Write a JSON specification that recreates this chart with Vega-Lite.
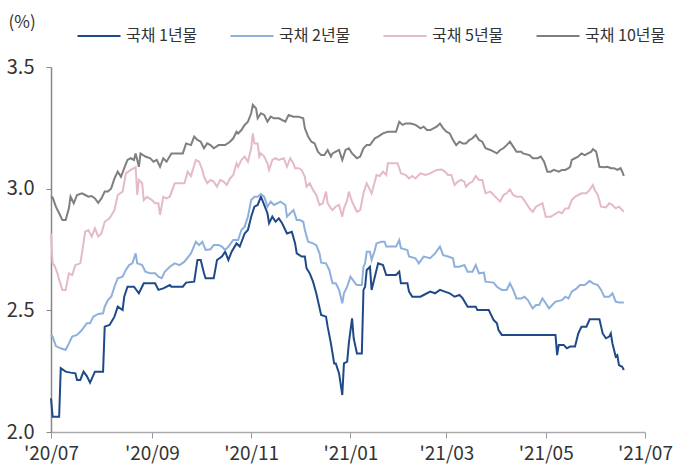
{
  "$schema": "https://vega.github.io/schema/vega-lite/v6.json",
  "width": 594,
  "height": 365,
  "autosize": "none",
  "padding": {"left": 51, "top": 67, "right": 28, "bottom": 36},
  "background": "white",
  "config": {
    "view": {"stroke": null},
    "font": "Noto Sans CJK KR"
  },
  "data": {
    "values": [
      {"s":"국채 1년물","t":"2020-07-01","v":2.138},
      {"s":"국채 1년물","t":"2020-07-02","v":2.063},
      {"s":"국채 1년물","t":"2020-07-06","v":2.063},
      {"s":"국채 1년물","t":"2020-07-07","v":2.262},
      {"s":"국채 1년물","t":"2020-07-10","v":2.248},
      {"s":"국채 1년물","t":"2020-07-13","v":2.244},
      {"s":"국채 1년물","t":"2020-07-16","v":2.241},
      {"s":"국채 1년물","t":"2020-07-17","v":2.214},
      {"s":"국채 1년물","t":"2020-07-19","v":2.214},
      {"s":"국채 1년물","t":"2020-07-21","v":2.248},
      {"s":"국채 1년물","t":"2020-07-23","v":2.230},
      {"s":"국채 1년물","t":"2020-07-25","v":2.203},
      {"s":"국채 1년물","t":"2020-07-28","v":2.248},
      {"s":"국채 1년물","t":"2020-08-02","v":2.248},
      {"s":"국채 1년물","t":"2020-08-03","v":2.433},
      {"s":"국채 1년물","t":"2020-08-06","v":2.440},
      {"s":"국채 1년물","t":"2020-08-09","v":2.474},
      {"s":"국채 1년물","t":"2020-08-11","v":2.515},
      {"s":"국채 1년물","t":"2020-08-14","v":2.501},
      {"s":"국채 1년물","t":"2020-08-15","v":2.556},
      {"s":"국채 1년물","t":"2020-08-17","v":2.597},
      {"s":"국채 1년물","t":"2020-08-21","v":2.597},
      {"s":"국채 1년물","t":"2020-08-24","v":2.570},
      {"s":"국채 1년물","t":"2020-08-27","v":2.611},
      {"s":"국채 1년물","t":"2020-09-03","v":2.611},
      {"s":"국채 1년물","t":"2020-09-05","v":2.584},
      {"s":"국채 1년물","t":"2020-09-08","v":2.590},
      {"s":"국채 1년물","t":"2020-09-12","v":2.604},
      {"s":"국채 1년물","t":"2020-09-13","v":2.597},
      {"s":"국채 1년물","t":"2020-09-20","v":2.597},
      {"s":"국채 1년물","t":"2020-09-22","v":2.614},
      {"s":"국채 1년물","t":"2020-09-27","v":2.618},
      {"s":"국채 1년물","t":"2020-09-29","v":2.707},
      {"s":"국채 1년물","t":"2020-10-01","v":2.707},
      {"s":"국채 1년물","t":"2020-10-03","v":2.652},
      {"s":"국채 1년물","t":"2020-10-04","v":2.632},
      {"s":"국채 1년물","t":"2020-10-09","v":2.632},
      {"s":"국채 1년물","t":"2020-10-11","v":2.707},
      {"s":"국채 1년물","t":"2020-10-14","v":2.721},
      {"s":"국채 1년물","t":"2020-10-16","v":2.741},
      {"s":"국채 1년물","t":"2020-10-18","v":2.707},
      {"s":"국채 1년물","t":"2020-10-20","v":2.741},
      {"s":"국채 1년물","t":"2020-10-23","v":2.775},
      {"s":"국채 1년물","t":"2020-10-25","v":2.762},
      {"s":"국채 1년물","t":"2020-10-28","v":2.816},
      {"s":"국채 1년물","t":"2020-10-30","v":2.830},
      {"s":"국채 1년물","t":"2020-11-01","v":2.885},
      {"s":"국채 1년물","t":"2020-11-03","v":2.926},
      {"s":"국채 1년물","t":"2020-11-05","v":2.933},
      {"s":"국채 1년물","t":"2020-11-07","v":2.967},
      {"s":"국채 1년물","t":"2020-11-09","v":2.933},
      {"s":"국채 1년물","t":"2020-11-11","v":2.899},
      {"s":"국채 1년물","t":"2020-11-12","v":2.858},
      {"s":"국채 1년물","t":"2020-11-14","v":2.885},
      {"s":"국채 1년물","t":"2020-11-16","v":2.864},
      {"s":"국채 1년물","t":"2020-11-18","v":2.878},
      {"s":"국채 1년물","t":"2020-11-20","v":2.858},
      {"s":"국채 1년물","t":"2020-11-23","v":2.816},
      {"s":"국채 1년물","t":"2020-11-26","v":2.823},
      {"s":"국채 1년물","t":"2020-11-28","v":2.775},
      {"s":"국채 1년물","t":"2020-11-29","v":2.734},
      {"s":"국채 1년물","t":"2020-12-02","v":2.721},
      {"s":"국채 1년물","t":"2020-12-04","v":2.721},
      {"s":"국채 1년물","t":"2020-12-05","v":2.673},
      {"s":"국채 1년물","t":"2020-12-07","v":2.652},
      {"s":"국채 1년물","t":"2020-12-09","v":2.618},
      {"s":"국채 1년물","t":"2020-12-11","v":2.570},
      {"s":"국채 1년물","t":"2020-12-14","v":2.481},
      {"s":"국채 1년물","t":"2020-12-17","v":2.474},
      {"s":"국채 1년물","t":"2020-12-18","v":2.433},
      {"s":"국채 1년물","t":"2020-12-20","v":2.364},
      {"s":"국채 1년물","t":"2020-12-22","v":2.282},
      {"s":"국채 1년물","t":"2020-12-23","v":2.282},
      {"s":"국채 1년물","t":"2020-12-25","v":2.241},
      {"s":"국채 1년물","t":"2020-12-27","v":2.152},
      {"s":"국채 1년물","t":"2020-12-28","v":2.282},
      {"s":"국채 1년물","t":"2020-12-30","v":2.289},
      {"s":"국채 1년물","t":"2020-12-31","v":2.364},
      {"s":"국채 1년물","t":"2021-01-02","v":2.467},
      {"s":"국채 1년물","t":"2021-01-03","v":2.385},
      {"s":"국채 1년물","t":"2021-01-05","v":2.323},
      {"s":"국채 1년물","t":"2021-01-08","v":2.323},
      {"s":"국채 1년물","t":"2021-01-09","v":2.584},
      {"s":"국채 1년물","t":"2021-01-10","v":2.597},
      {"s":"국채 1년물","t":"2021-01-11","v":2.666},
      {"s":"국채 1년물","t":"2021-01-13","v":2.679},
      {"s":"국채 1년물","t":"2021-01-14","v":2.584},
      {"s":"국채 1년물","t":"2021-01-16","v":2.638},
      {"s":"국채 1년물","t":"2021-01-18","v":2.693},
      {"s":"국채 1년물","t":"2021-01-21","v":2.686},
      {"s":"국채 1년물","t":"2021-01-23","v":2.645},
      {"s":"국채 1년물","t":"2021-01-29","v":2.645},
      {"s":"국채 1년물","t":"2021-01-31","v":2.659},
      {"s":"국채 1년물","t":"2021-02-01","v":2.611},
      {"s":"국채 1년물","t":"2021-02-05","v":2.611},
      {"s":"국채 1년물","t":"2021-02-06","v":2.577},
      {"s":"국채 1년물","t":"2021-02-08","v":2.556},
      {"s":"국채 1년물","t":"2021-02-13","v":2.556},
      {"s":"국채 1년물","t":"2021-02-15","v":2.563},
      {"s":"국채 1년물","t":"2021-02-19","v":2.577},
      {"s":"국채 1년물","t":"2021-02-22","v":2.570},
      {"s":"국채 1년물","t":"2021-02-25","v":2.584},
      {"s":"국채 1년물","t":"2021-02-28","v":2.577},
      {"s":"국채 1년물","t":"2021-03-03","v":2.570},
      {"s":"국채 1년물","t":"2021-03-06","v":2.556},
      {"s":"국채 1년물","t":"2021-03-09","v":2.563},
      {"s":"국채 1년물","t":"2021-03-11","v":2.549},
      {"s":"국채 1년물","t":"2021-03-14","v":2.515},
      {"s":"국채 1년물","t":"2021-03-19","v":2.515},
      {"s":"국채 1년물","t":"2021-03-20","v":2.501},
      {"s":"국채 1년물","t":"2021-03-27","v":2.501},
      {"s":"국채 1년물","t":"2021-03-30","v":2.460},
      {"s":"국채 1년물","t":"2021-04-01","v":2.447},
      {"s":"국채 1년물","t":"2021-04-02","v":2.419},
      {"s":"국채 1년물","t":"2021-04-04","v":2.399},
      {"s":"국채 1년물","t":"2021-05-07","v":2.399},
      {"s":"국채 1년물","t":"2021-05-08","v":2.316},
      {"s":"국채 1년물","t":"2021-05-09","v":2.358},
      {"s":"국채 1년물","t":"2021-05-12","v":2.358},
      {"s":"국채 1년물","t":"2021-05-14","v":2.344},
      {"s":"국채 1년물","t":"2021-05-16","v":2.351},
      {"s":"국채 1년물","t":"2021-05-19","v":2.351},
      {"s":"국채 1년물","t":"2021-05-21","v":2.405},
      {"s":"국채 1년물","t":"2021-05-23","v":2.433},
      {"s":"국채 1년물","t":"2021-05-26","v":2.433},
      {"s":"국채 1년물","t":"2021-05-28","v":2.463},
      {"s":"국채 1년물","t":"2021-06-03","v":2.463},
      {"s":"국채 1년물","t":"2021-06-05","v":2.405},
      {"s":"국채 1년물","t":"2021-06-07","v":2.385},
      {"s":"국채 1년물","t":"2021-06-09","v":2.392},
      {"s":"국채 1년물","t":"2021-06-10","v":2.405},
      {"s":"국채 1년물","t":"2021-06-11","v":2.364},
      {"s":"국채 1년물","t":"2021-06-13","v":2.310},
      {"s":"국채 1년물","t":"2021-06-14","v":2.316},
      {"s":"국채 1년물","t":"2021-06-15","v":2.275},
      {"s":"국채 1년물","t":"2021-06-17","v":2.268},
      {"s":"국채 1년물","t":"2021-06-18","v":2.255},

      {"s":"국채 2년물","t":"2020-07-01","v":2.399},
      {"s":"국채 2년물","t":"2020-07-02","v":2.392},
      {"s":"국채 2년물","t":"2020-07-04","v":2.353},
      {"s":"국채 2년물","t":"2020-07-07","v":2.344},
      {"s":"국채 2년물","t":"2020-07-10","v":2.337},
      {"s":"국채 2년물","t":"2020-07-12","v":2.364},
      {"s":"국채 2년물","t":"2020-07-14","v":2.392},
      {"s":"국채 2년물","t":"2020-07-17","v":2.399},
      {"s":"국채 2년물","t":"2020-07-20","v":2.419},
      {"s":"국채 2년물","t":"2020-07-23","v":2.447},
      {"s":"국채 2년물","t":"2020-07-25","v":2.447},
      {"s":"국채 2년물","t":"2020-07-27","v":2.474},
      {"s":"국채 2년물","t":"2020-07-30","v":2.485},
      {"s":"국채 2년물","t":"2020-08-02","v":2.488},
      {"s":"국채 2년물","t":"2020-08-03","v":2.515},
      {"s":"국채 2년물","t":"2020-08-05","v":2.542},
      {"s":"국채 2년물","t":"2020-08-07","v":2.556},
      {"s":"국채 2년물","t":"2020-08-09","v":2.597},
      {"s":"국채 2년물","t":"2020-08-11","v":2.632},
      {"s":"국채 2년물","t":"2020-08-14","v":2.638},
      {"s":"국채 2년물","t":"2020-08-16","v":2.666},
      {"s":"국채 2년물","t":"2020-08-18","v":2.686},
      {"s":"국채 2년물","t":"2020-08-20","v":2.693},
      {"s":"국채 2년물","t":"2020-08-22","v":2.734},
      {"s":"국채 2년물","t":"2020-08-23","v":2.693},
      {"s":"국채 2년물","t":"2020-08-26","v":2.686},
      {"s":"국채 2년물","t":"2020-08-28","v":2.659},
      {"s":"국채 2년물","t":"2020-08-31","v":2.652},
      {"s":"국채 2년물","t":"2020-09-03","v":2.652},
      {"s":"국채 2년물","t":"2020-09-05","v":2.638},
      {"s":"국채 2년물","t":"2020-09-07","v":2.632},
      {"s":"국채 2년물","t":"2020-09-09","v":2.659},
      {"s":"국채 2년물","t":"2020-09-12","v":2.679},
      {"s":"국채 2년물","t":"2020-09-15","v":2.693},
      {"s":"국채 2년물","t":"2020-09-18","v":2.686},
      {"s":"국채 2년물","t":"2020-09-21","v":2.700},
      {"s":"국채 2년물","t":"2020-09-25","v":2.734},
      {"s":"국채 2년물","t":"2020-09-28","v":2.782},
      {"s":"국채 2년물","t":"2020-09-30","v":2.768},
      {"s":"국채 2년물","t":"2020-10-02","v":2.782},
      {"s":"국채 2년물","t":"2020-10-04","v":2.748},
      {"s":"국채 2년물","t":"2020-10-07","v":2.751},
      {"s":"국채 2년물","t":"2020-10-09","v":2.768},
      {"s":"국채 2년물","t":"2020-10-12","v":2.768},
      {"s":"국채 2년물","t":"2020-10-14","v":2.762},
      {"s":"국채 2년물","t":"2020-10-16","v":2.748},
      {"s":"국채 2년물","t":"2020-10-18","v":2.762},
      {"s":"국채 2년물","t":"2020-10-21","v":2.789},
      {"s":"국채 2년물","t":"2020-10-24","v":2.789},
      {"s":"국채 2년물","t":"2020-10-26","v":2.830},
      {"s":"국채 2년물","t":"2020-10-28","v":2.844},
      {"s":"국채 2년물","t":"2020-10-30","v":2.885},
      {"s":"국채 2년물","t":"2020-11-01","v":2.953},
      {"s":"국채 2년물","t":"2020-11-03","v":2.967},
      {"s":"국채 2년물","t":"2020-11-05","v":2.967},
      {"s":"국채 2년물","t":"2020-11-07","v":2.978},
      {"s":"국채 2년물","t":"2020-11-09","v":2.967},
      {"s":"국채 2년물","t":"2020-11-11","v":2.926},
      {"s":"국채 2년물","t":"2020-11-13","v":2.947},
      {"s":"국채 2년물","t":"2020-11-15","v":2.933},
      {"s":"국채 2년물","t":"2020-11-17","v":2.940},
      {"s":"국채 2년물","t":"2020-11-19","v":2.947},
      {"s":"국채 2년물","t":"2020-11-22","v":2.933},
      {"s":"국채 2년물","t":"2020-11-23","v":2.885},
      {"s":"국채 2년물","t":"2020-11-25","v":2.899},
      {"s":"국채 2년물","t":"2020-11-27","v":2.912},
      {"s":"국채 2년물","t":"2020-11-29","v":2.871},
      {"s":"국채 2년물","t":"2020-12-01","v":2.871},
      {"s":"국채 2년물","t":"2020-12-03","v":2.864},
      {"s":"국채 2년물","t":"2020-12-04","v":2.830},
      {"s":"국채 2년물","t":"2020-12-06","v":2.782},
      {"s":"국채 2년물","t":"2020-12-09","v":2.775},
      {"s":"국채 2년물","t":"2020-12-11","v":2.768},
      {"s":"국채 2년물","t":"2020-12-13","v":2.734},
      {"s":"국채 2년물","t":"2020-12-14","v":2.696},
      {"s":"국채 2년물","t":"2020-12-17","v":2.693},
      {"s":"국채 2년물","t":"2020-12-19","v":2.666},
      {"s":"국채 2년물","t":"2020-12-21","v":2.611},
      {"s":"국채 2년물","t":"2020-12-23","v":2.611},
      {"s":"국채 2년물","t":"2020-12-25","v":2.584},
      {"s":"국채 2년물","t":"2020-12-27","v":2.529},
      {"s":"국채 2년물","t":"2020-12-28","v":2.570},
      {"s":"국채 2년물","t":"2020-12-30","v":2.597},
      {"s":"국채 2년물","t":"2021-01-01","v":2.638},
      {"s":"국채 2년물","t":"2021-01-04","v":2.611},
      {"s":"국채 2년물","t":"2021-01-05","v":2.604},
      {"s":"국채 2년물","t":"2021-01-08","v":2.604},
      {"s":"국채 2년물","t":"2021-01-09","v":2.679},
      {"s":"국채 2년물","t":"2021-01-10","v":2.693},
      {"s":"국채 2년물","t":"2021-01-11","v":2.741},
      {"s":"국채 2년물","t":"2021-01-13","v":2.741},
      {"s":"국채 2년물","t":"2021-01-14","v":2.707},
      {"s":"국채 2년물","t":"2021-01-16","v":2.748},
      {"s":"국채 2년물","t":"2021-01-17","v":2.775},
      {"s":"국채 2년물","t":"2021-01-20","v":2.782},
      {"s":"국채 2년물","t":"2021-01-22","v":2.782},
      {"s":"국채 2년물","t":"2021-01-23","v":2.762},
      {"s":"국채 2년물","t":"2021-01-29","v":2.762},
      {"s":"국채 2년물","t":"2021-01-31","v":2.789},
      {"s":"국채 2년물","t":"2021-02-01","v":2.755},
      {"s":"국채 2년물","t":"2021-02-05","v":2.748},
      {"s":"국채 2년물","t":"2021-02-06","v":2.721},
      {"s":"국채 2년물","t":"2021-02-10","v":2.714},
      {"s":"국채 2년물","t":"2021-02-12","v":2.693},
      {"s":"국채 2년물","t":"2021-02-15","v":2.721},
      {"s":"국채 2년물","t":"2021-02-19","v":2.714},
      {"s":"국채 2년물","t":"2021-02-22","v":2.734},
      {"s":"국채 2년물","t":"2021-02-25","v":2.762},
      {"s":"국채 2년물","t":"2021-02-27","v":2.727},
      {"s":"국채 2년물","t":"2021-03-02","v":2.721},
      {"s":"국채 2년물","t":"2021-03-05","v":2.714},
      {"s":"국채 2년물","t":"2021-03-06","v":2.679},
      {"s":"국채 2년물","t":"2021-03-09","v":2.679},
      {"s":"국채 2년물","t":"2021-03-12","v":2.686},
      {"s":"국채 2년물","t":"2021-03-14","v":2.659},
      {"s":"국채 2년물","t":"2021-03-17","v":2.659},
      {"s":"국채 2년물","t":"2021-03-19","v":2.686},
      {"s":"국채 2년물","t":"2021-03-21","v":2.652},
      {"s":"국채 2년물","t":"2021-03-24","v":2.655},
      {"s":"국채 2년물","t":"2021-03-25","v":2.618},
      {"s":"국채 2년물","t":"2021-03-30","v":2.614},
      {"s":"국채 2년물","t":"2021-04-01","v":2.597},
      {"s":"국채 2년물","t":"2021-04-04","v":2.584},
      {"s":"국채 2년물","t":"2021-04-07","v":2.584},
      {"s":"국채 2년물","t":"2021-04-09","v":2.611},
      {"s":"국채 2년물","t":"2021-04-11","v":2.584},
      {"s":"국채 2년물","t":"2021-04-13","v":2.549},
      {"s":"국채 2년물","t":"2021-04-16","v":2.549},
      {"s":"국채 2년물","t":"2021-04-18","v":2.556},
      {"s":"국채 2년물","t":"2021-04-20","v":2.542},
      {"s":"국채 2년물","t":"2021-04-23","v":2.508},
      {"s":"국채 2년물","t":"2021-04-25","v":2.522},
      {"s":"국채 2년물","t":"2021-04-27","v":2.522},
      {"s":"국채 2년물","t":"2021-04-29","v":2.549},
      {"s":"국채 2년물","t":"2021-05-01","v":2.529},
      {"s":"국채 2년물","t":"2021-05-03","v":2.508},
      {"s":"국채 2년물","t":"2021-05-05","v":2.522},
      {"s":"국채 2년물","t":"2021-05-07","v":2.536},
      {"s":"국채 2년물","t":"2021-05-11","v":2.542},
      {"s":"국채 2년물","t":"2021-05-13","v":2.556},
      {"s":"국채 2년물","t":"2021-05-15","v":2.549},
      {"s":"국채 2년물","t":"2021-05-17","v":2.577},
      {"s":"국채 2년물","t":"2021-05-20","v":2.590},
      {"s":"국채 2년물","t":"2021-05-22","v":2.604},
      {"s":"국채 2년물","t":"2021-05-25","v":2.604},
      {"s":"국채 2년물","t":"2021-05-28","v":2.621},
      {"s":"국채 2년물","t":"2021-05-30","v":2.611},
      {"s":"국채 2년물","t":"2021-06-02","v":2.604},
      {"s":"국채 2년물","t":"2021-06-04","v":2.584},
      {"s":"국채 2년물","t":"2021-06-06","v":2.556},
      {"s":"국채 2년물","t":"2021-06-09","v":2.556},
      {"s":"국채 2년물","t":"2021-06-11","v":2.570},
      {"s":"국채 2년물","t":"2021-06-13","v":2.536},
      {"s":"국채 2년물","t":"2021-06-15","v":2.532},
      {"s":"국채 2년물","t":"2021-06-18","v":2.532},

      {"s":"국채 5년물","t":"2020-07-01","v":2.816},
      {"s":"국채 5년물","t":"2020-07-02","v":2.693},
      {"s":"국채 5년물","t":"2020-07-03","v":2.686},
      {"s":"국채 5년물","t":"2020-07-05","v":2.652},
      {"s":"국채 5년물","t":"2020-07-06","v":2.625},
      {"s":"국채 5년물","t":"2020-07-08","v":2.584},
      {"s":"국채 5년물","t":"2020-07-10","v":2.584},
      {"s":"국채 5년물","t":"2020-07-11","v":2.618},
      {"s":"국채 5년물","t":"2020-07-12","v":2.652},
      {"s":"국채 5년물","t":"2020-07-14","v":2.645},
      {"s":"국채 5년물","t":"2020-07-16","v":2.686},
      {"s":"국채 5년물","t":"2020-07-19","v":2.693},
      {"s":"국채 5년물","t":"2020-07-20","v":2.734},
      {"s":"국채 5년물","t":"2020-07-22","v":2.823},
      {"s":"국채 5년물","t":"2020-07-24","v":2.830},
      {"s":"국채 5년물","t":"2020-07-26","v":2.803},
      {"s":"국채 5년물","t":"2020-07-28","v":2.837},
      {"s":"국채 5년물","t":"2020-07-30","v":2.803},
      {"s":"국채 5년물","t":"2020-08-01","v":2.816},
      {"s":"국채 5년물","t":"2020-08-03","v":2.864},
      {"s":"국채 5년물","t":"2020-08-06","v":2.878},
      {"s":"국채 5년물","t":"2020-08-09","v":2.912},
      {"s":"국채 5년물","t":"2020-08-11","v":2.974},
      {"s":"국채 5년물","t":"2020-08-14","v":2.988},
      {"s":"국채 5년물","t":"2020-08-16","v":3.063},
      {"s":"국채 5년물","t":"2020-08-19","v":3.077},
      {"s":"국채 5년물","t":"2020-08-22","v":3.088},
      {"s":"국채 5년물","t":"2020-08-23","v":2.974},
      {"s":"국채 5년물","t":"2020-08-24","v":3.036},
      {"s":"국채 5년물","t":"2020-08-26","v":3.022},
      {"s":"국채 5년물","t":"2020-08-27","v":2.953},
      {"s":"국채 5년물","t":"2020-08-29","v":2.967},
      {"s":"국채 5년물","t":"2020-09-01","v":2.953},
      {"s":"국채 5년물","t":"2020-09-03","v":2.940},
      {"s":"국채 5년물","t":"2020-09-05","v":2.940},
      {"s":"국채 5년물","t":"2020-09-06","v":2.892},
      {"s":"국채 5년물","t":"2020-09-08","v":2.967},
      {"s":"국채 5년물","t":"2020-09-10","v":2.960},
      {"s":"국채 5년물","t":"2020-09-12","v":2.967},
      {"s":"국채 5년물","t":"2020-09-15","v":3.022},
      {"s":"국채 5년물","t":"2020-09-18","v":3.022},
      {"s":"국채 5년물","t":"2020-09-21","v":3.022},
      {"s":"국채 5년물","t":"2020-09-23","v":3.070},
      {"s":"국채 5년물","t":"2020-09-25","v":3.052},
      {"s":"국채 5년물","t":"2020-09-28","v":3.118},
      {"s":"국채 5년물","t":"2020-09-30","v":3.111},
      {"s":"국채 5년물","t":"2020-10-02","v":3.077},
      {"s":"국채 5년물","t":"2020-10-03","v":3.049},
      {"s":"국채 5년물","t":"2020-10-05","v":3.022},
      {"s":"국채 5년물","t":"2020-10-07","v":3.036},
      {"s":"국채 5년물","t":"2020-10-09","v":3.029},
      {"s":"국채 5년물","t":"2020-10-11","v":3.008},
      {"s":"국채 5년물","t":"2020-10-13","v":3.036},
      {"s":"국채 5년물","t":"2020-10-15","v":3.029},
      {"s":"국채 5년물","t":"2020-10-17","v":3.015},
      {"s":"국채 5년물","t":"2020-10-19","v":3.042},
      {"s":"국채 5년물","t":"2020-10-21","v":3.056},
      {"s":"국채 5년물","t":"2020-10-23","v":3.104},
      {"s":"국채 5년물","t":"2020-10-24","v":3.090},
      {"s":"국채 5년물","t":"2020-10-26","v":3.118},
      {"s":"국채 5년물","t":"2020-10-28","v":3.132},
      {"s":"국채 5년물","t":"2020-10-30","v":3.111},
      {"s":"국채 5년물","t":"2020-11-01","v":3.166},
      {"s":"국채 5년물","t":"2020-11-02","v":3.227},
      {"s":"국채 5년물","t":"2020-11-03","v":3.186},
      {"s":"국채 5년물","t":"2020-11-05","v":3.186},
      {"s":"국채 5년물","t":"2020-11-06","v":3.132},
      {"s":"국채 5년물","t":"2020-11-07","v":3.145},
      {"s":"국채 5년물","t":"2020-11-09","v":3.132},
      {"s":"국채 5년물","t":"2020-11-11","v":3.104},
      {"s":"국채 5년물","t":"2020-11-12","v":3.077},
      {"s":"국채 5년물","t":"2020-11-14","v":3.118},
      {"s":"국채 5년물","t":"2020-11-16","v":3.125},
      {"s":"국채 5년물","t":"2020-11-18","v":3.118},
      {"s":"국채 5년물","t":"2020-11-21","v":3.125},
      {"s":"국채 5년물","t":"2020-11-23","v":3.090},
      {"s":"국채 5년물","t":"2020-11-25","v":3.125},
      {"s":"국채 5년물","t":"2020-11-27","v":3.104},
      {"s":"국채 5년물","t":"2020-11-28","v":3.084},
      {"s":"국채 5년물","t":"2020-11-30","v":3.084},
      {"s":"국채 5년물","t":"2020-12-02","v":3.077},
      {"s":"국채 5년물","t":"2020-12-04","v":3.049},
      {"s":"국채 5년물","t":"2020-12-05","v":3.008},
      {"s":"국채 5년물","t":"2020-12-07","v":3.022},
      {"s":"국채 5년물","t":"2020-12-09","v":2.995},
      {"s":"국채 5년물","t":"2020-12-11","v":2.974},
      {"s":"국채 5년물","t":"2020-12-13","v":2.933},
      {"s":"국채 5년물","t":"2020-12-15","v":2.940},
      {"s":"국채 5년물","t":"2020-12-17","v":2.988},
      {"s":"국채 5년물","t":"2020-12-18","v":2.940},
      {"s":"국채 5년물","t":"2020-12-20","v":2.919},
      {"s":"국채 5년물","t":"2020-12-21","v":2.912},
      {"s":"국채 5년물","t":"2020-12-23","v":2.926},
      {"s":"국채 5년물","t":"2020-12-25","v":2.933},
      {"s":"국채 5년물","t":"2020-12-27","v":2.885},
      {"s":"국채 5년물","t":"2020-12-28","v":2.919},
      {"s":"국채 5년물","t":"2020-12-30","v":2.953},
      {"s":"국채 5년물","t":"2020-12-31","v":2.988},
      {"s":"국채 5년물","t":"2021-01-02","v":2.947},
      {"s":"국채 5년물","t":"2021-01-05","v":2.905},
      {"s":"국채 5년물","t":"2021-01-07","v":2.912},
      {"s":"국채 5년물","t":"2021-01-09","v":2.981},
      {"s":"국채 5년물","t":"2021-01-11","v":3.022},
      {"s":"국채 5년물","t":"2021-01-13","v":2.995},
      {"s":"국채 5년물","t":"2021-01-14","v":2.981},
      {"s":"국채 5년물","t":"2021-01-16","v":3.029},
      {"s":"국채 5년물","t":"2021-01-17","v":3.056},
      {"s":"국채 5년물","t":"2021-01-19","v":3.052},
      {"s":"국채 5년물","t":"2021-01-21","v":3.070},
      {"s":"국채 5년물","t":"2021-01-23","v":3.056},
      {"s":"국채 5년물","t":"2021-01-24","v":3.104},
      {"s":"국채 5년물","t":"2021-01-30","v":3.104},
      {"s":"국채 5년물","t":"2021-02-01","v":3.063},
      {"s":"국채 5년물","t":"2021-02-04","v":3.056},
      {"s":"국채 5년물","t":"2021-02-06","v":3.042},
      {"s":"국채 5년물","t":"2021-02-08","v":3.052},
      {"s":"국채 5년물","t":"2021-02-10","v":3.042},
      {"s":"국채 5년물","t":"2021-02-13","v":3.063},
      {"s":"국채 5년물","t":"2021-02-16","v":3.056},
      {"s":"국채 5년물","t":"2021-02-19","v":3.063},
      {"s":"국채 5년물","t":"2021-02-21","v":3.070},
      {"s":"국채 5년물","t":"2021-02-23","v":3.077},
      {"s":"국채 5년물","t":"2021-02-26","v":3.079},
      {"s":"국채 5년물","t":"2021-02-28","v":3.070},
      {"s":"국채 5년물","t":"2021-03-02","v":3.056},
      {"s":"국채 5년물","t":"2021-03-04","v":3.056},
      {"s":"국채 5년물","t":"2021-03-06","v":3.015},
      {"s":"국채 5년물","t":"2021-03-08","v":3.029},
      {"s":"국채 5년물","t":"2021-03-10","v":3.036},
      {"s":"국채 5년물","t":"2021-03-12","v":3.029},
      {"s":"국채 5년물","t":"2021-03-13","v":3.008},
      {"s":"국채 5년물","t":"2021-03-15","v":3.022},
      {"s":"국채 5년물","t":"2021-03-17","v":3.029},
      {"s":"국채 5년물","t":"2021-03-19","v":3.052},
      {"s":"국채 5년물","t":"2021-03-21","v":3.036},
      {"s":"국채 5년물","t":"2021-03-23","v":3.036},
      {"s":"국채 5년물","t":"2021-03-25","v":2.981},
      {"s":"국채 5년물","t":"2021-03-28","v":2.988},
      {"s":"국채 5년물","t":"2021-03-30","v":2.974},
      {"s":"국채 5년물","t":"2021-04-01","v":2.960},
      {"s":"국채 5년물","t":"2021-04-03","v":2.947},
      {"s":"국채 5년물","t":"2021-04-05","v":2.974},
      {"s":"국채 5년물","t":"2021-04-07","v":2.981},
      {"s":"국채 5년물","t":"2021-04-09","v":2.997},
      {"s":"국채 5년물","t":"2021-04-11","v":2.974},
      {"s":"국채 5년물","t":"2021-04-13","v":2.967},
      {"s":"국채 5년물","t":"2021-04-16","v":2.967},
      {"s":"국채 5년물","t":"2021-04-17","v":2.960},
      {"s":"국채 5년물","t":"2021-04-19","v":2.940},
      {"s":"국채 5년물","t":"2021-04-21","v":2.919},
      {"s":"국채 5년물","t":"2021-04-23","v":2.905},
      {"s":"국채 5년물","t":"2021-04-25","v":2.926},
      {"s":"국채 5년물","t":"2021-04-27","v":2.933},
      {"s":"국채 5년물","t":"2021-04-29","v":2.940},
      {"s":"국채 5년물","t":"2021-05-01","v":2.885},
      {"s":"국채 5년물","t":"2021-05-04","v":2.885},
      {"s":"국채 5년물","t":"2021-05-06","v":2.892},
      {"s":"국채 5년물","t":"2021-05-09","v":2.905},
      {"s":"국채 5년물","t":"2021-05-11","v":2.899},
      {"s":"국채 5년물","t":"2021-05-13","v":2.919},
      {"s":"국채 5년물","t":"2021-05-15","v":2.919},
      {"s":"국채 5년물","t":"2021-05-17","v":2.953},
      {"s":"국채 5년물","t":"2021-05-19","v":2.967},
      {"s":"국채 5년물","t":"2021-05-21","v":2.974},
      {"s":"국채 5년물","t":"2021-05-23","v":2.981},
      {"s":"국채 5년물","t":"2021-05-26","v":2.981},
      {"s":"국채 5년물","t":"2021-05-28","v":2.995},
      {"s":"국채 5년물","t":"2021-05-30","v":3.015},
      {"s":"국채 5년물","t":"2021-05-31","v":2.995},
      {"s":"국채 5년물","t":"2021-06-02","v":2.974},
      {"s":"국채 5년물","t":"2021-06-04","v":2.926},
      {"s":"국채 5년물","t":"2021-06-07","v":2.923},
      {"s":"국채 5년물","t":"2021-06-09","v":2.940},
      {"s":"국채 5년물","t":"2021-06-11","v":2.933},
      {"s":"국채 5년물","t":"2021-06-13","v":2.919},
      {"s":"국채 5년물","t":"2021-06-15","v":2.926},
      {"s":"국채 5년물","t":"2021-06-18","v":2.905},

      {"s":"국채 10년물","t":"2020-07-01","v":2.967},
      {"s":"국채 10년물","t":"2020-07-02","v":2.964},
      {"s":"국채 10년물","t":"2020-07-04","v":2.926},
      {"s":"국채 10년물","t":"2020-07-06","v":2.899},
      {"s":"국채 10년물","t":"2020-07-08","v":2.871},
      {"s":"국채 10년물","t":"2020-07-10","v":2.871},
      {"s":"국채 10년물","t":"2020-07-12","v":2.919},
      {"s":"국채 10년물","t":"2020-07-13","v":2.967},
      {"s":"국채 10년물","t":"2020-07-15","v":2.940},
      {"s":"국채 10년물","t":"2020-07-17","v":2.974},
      {"s":"국채 10년물","t":"2020-07-20","v":2.981},
      {"s":"국채 10년물","t":"2020-07-22","v":2.974},
      {"s":"국채 10년물","t":"2020-07-24","v":2.967},
      {"s":"국채 10년물","t":"2020-07-26","v":2.970},
      {"s":"국채 10년물","t":"2020-07-28","v":2.960},
      {"s":"국채 10년물","t":"2020-07-30","v":2.942},
      {"s":"국채 10년물","t":"2020-08-01","v":2.960},
      {"s":"국채 10년물","t":"2020-08-03","v":2.988},
      {"s":"국채 10년물","t":"2020-08-05","v":2.988},
      {"s":"국채 10년물","t":"2020-08-07","v":3.001},
      {"s":"국채 10년물","t":"2020-08-09","v":3.042},
      {"s":"국채 10년물","t":"2020-08-11","v":3.070},
      {"s":"국채 10년물","t":"2020-08-13","v":3.049},
      {"s":"국채 10년물","t":"2020-08-15","v":3.084},
      {"s":"국채 10년물","t":"2020-08-17","v":3.118},
      {"s":"국채 10년물","t":"2020-08-19","v":3.125},
      {"s":"국채 10년물","t":"2020-08-21","v":3.118},
      {"s":"국채 10년물","t":"2020-08-22","v":3.145},
      {"s":"국채 10년물","t":"2020-08-24","v":3.090},
      {"s":"국채 10년물","t":"2020-08-25","v":3.145},
      {"s":"국채 10년물","t":"2020-08-28","v":3.132},
      {"s":"국채 10년물","t":"2020-08-31","v":3.125},
      {"s":"국채 10년물","t":"2020-09-02","v":3.111},
      {"s":"국채 10년물","t":"2020-09-04","v":3.118},
      {"s":"국채 10년물","t":"2020-09-06","v":3.090},
      {"s":"국채 10년물","t":"2020-09-08","v":3.125},
      {"s":"국채 10년물","t":"2020-09-10","v":3.111},
      {"s":"국채 10년물","t":"2020-09-13","v":3.145},
      {"s":"국채 10년물","t":"2020-09-17","v":3.145},
      {"s":"국채 10년물","t":"2020-09-20","v":3.145},
      {"s":"국채 10년물","t":"2020-09-22","v":3.186},
      {"s":"국채 10년물","t":"2020-09-25","v":3.179},
      {"s":"국채 10년물","t":"2020-09-27","v":3.214},
      {"s":"국채 10년물","t":"2020-09-29","v":3.200},
      {"s":"국채 10년물","t":"2020-10-01","v":3.193},
      {"s":"국채 10년물","t":"2020-10-03","v":3.166},
      {"s":"국채 10년물","t":"2020-10-05","v":3.186},
      {"s":"국채 10년물","t":"2020-10-07","v":3.179},
      {"s":"국채 10년물","t":"2020-10-09","v":3.166},
      {"s":"국채 10년물","t":"2020-10-12","v":3.179},
      {"s":"국채 10년물","t":"2020-10-16","v":3.179},
      {"s":"국채 10년물","t":"2020-10-19","v":3.193},
      {"s":"국채 10년물","t":"2020-10-21","v":3.207},
      {"s":"국채 10년물","t":"2020-10-23","v":3.234},
      {"s":"국채 10년물","t":"2020-10-24","v":3.227},
      {"s":"국채 10년물","t":"2020-10-26","v":3.241},
      {"s":"국채 10년물","t":"2020-10-28","v":3.262},
      {"s":"국채 10년물","t":"2020-10-30","v":3.275},
      {"s":"국채 10년물","t":"2020-11-01","v":3.310},
      {"s":"국채 10년물","t":"2020-11-02","v":3.344},
      {"s":"국채 10년물","t":"2020-11-04","v":3.330},
      {"s":"국채 10년물","t":"2020-11-05","v":3.289},
      {"s":"국채 10년물","t":"2020-11-07","v":3.310},
      {"s":"국채 10년물","t":"2020-11-09","v":3.303},
      {"s":"국채 10년물","t":"2020-11-11","v":3.275},
      {"s":"국채 10년물","t":"2020-11-13","v":3.296},
      {"s":"국채 10년물","t":"2020-11-15","v":3.289},
      {"s":"국채 10년물","t":"2020-11-18","v":3.289},
      {"s":"국채 10년물","t":"2020-11-22","v":3.275},
      {"s":"국채 10년물","t":"2020-11-24","v":3.303},
      {"s":"국채 10년물","t":"2020-11-27","v":3.296},
      {"s":"국채 10년물","t":"2020-11-30","v":3.296},
      {"s":"국채 10년물","t":"2020-12-03","v":3.289},
      {"s":"국채 10년물","t":"2020-12-04","v":3.248},
      {"s":"국채 10년물","t":"2020-12-06","v":3.214},
      {"s":"국채 10년물","t":"2020-12-08","v":3.193},
      {"s":"국채 10년물","t":"2020-12-10","v":3.186},
      {"s":"국채 10년물","t":"2020-12-12","v":3.152},
      {"s":"국채 10년물","t":"2020-12-14","v":3.138},
      {"s":"국채 10년물","t":"2020-12-16","v":3.138},
      {"s":"국채 10년물","t":"2020-12-18","v":3.159},
      {"s":"국채 10년물","t":"2020-12-20","v":3.132},
      {"s":"국채 10년물","t":"2020-12-21","v":3.145},
      {"s":"국채 10년물","t":"2020-12-23","v":3.152},
      {"s":"국채 10년물","t":"2020-12-25","v":3.159},
      {"s":"국채 10년물","t":"2020-12-27","v":3.118},
      {"s":"국채 10년물","t":"2020-12-29","v":3.159},
      {"s":"국채 10년물","t":"2020-12-31","v":3.166},
      {"s":"국채 10년물","t":"2021-01-02","v":3.145},
      {"s":"국채 10년물","t":"2021-01-05","v":3.125},
      {"s":"국채 10년물","t":"2021-01-07","v":3.132},
      {"s":"국채 10년물","t":"2021-01-09","v":3.166},
      {"s":"국채 10년물","t":"2021-01-11","v":3.179},
      {"s":"국채 10년물","t":"2021-01-13","v":3.179},
      {"s":"국채 10년물","t":"2021-01-16","v":3.207},
      {"s":"국채 10년물","t":"2021-01-18","v":3.214},
      {"s":"국채 10년물","t":"2021-01-21","v":3.227},
      {"s":"국채 10년물","t":"2021-01-24","v":3.234},
      {"s":"국채 10년물","t":"2021-01-29","v":3.234},
      {"s":"국채 10년물","t":"2021-01-31","v":3.275},
      {"s":"국채 10년물","t":"2021-02-02","v":3.262},
      {"s":"국채 10년물","t":"2021-02-04","v":3.268},
      {"s":"국채 10년물","t":"2021-02-07","v":3.268},
      {"s":"국채 10년물","t":"2021-02-10","v":3.262},
      {"s":"국채 10년물","t":"2021-02-13","v":3.248},
      {"s":"국채 10년물","t":"2021-02-15","v":3.255},
      {"s":"국채 10년물","t":"2021-02-17","v":3.241},
      {"s":"국채 10년물","t":"2021-02-19","v":3.241},
      {"s":"국채 10년물","t":"2021-02-21","v":3.248},
      {"s":"국채 10년물","t":"2021-02-23","v":3.255},
      {"s":"국채 10년물","t":"2021-02-25","v":3.268},
      {"s":"국채 10년물","t":"2021-02-27","v":3.248},
      {"s":"국채 10년물","t":"2021-03-01","v":3.234},
      {"s":"국채 10년물","t":"2021-03-03","v":3.227},
      {"s":"국채 10년물","t":"2021-03-05","v":3.200},
      {"s":"국채 10년물","t":"2021-03-07","v":3.179},
      {"s":"국채 10년물","t":"2021-03-09","v":3.193},
      {"s":"국채 10년물","t":"2021-03-11","v":3.186},
      {"s":"국채 10년물","t":"2021-03-13","v":3.186},
      {"s":"국채 10년물","t":"2021-03-15","v":3.200},
      {"s":"국채 10년물","t":"2021-03-17","v":3.207},
      {"s":"국채 10년물","t":"2021-03-19","v":3.221},
      {"s":"국채 10년물","t":"2021-03-21","v":3.200},
      {"s":"국채 10년물","t":"2021-03-23","v":3.193},
      {"s":"국채 10년물","t":"2021-03-25","v":3.166},
      {"s":"국채 10년물","t":"2021-03-28","v":3.159},
      {"s":"국채 10년물","t":"2021-03-30","v":3.152},
      {"s":"국채 10년물","t":"2021-04-01","v":3.145},
      {"s":"국채 10년물","t":"2021-04-03","v":3.159},
      {"s":"국채 10년물","t":"2021-04-05","v":3.166},
      {"s":"국채 10년물","t":"2021-04-07","v":3.179},
      {"s":"국채 10년물","t":"2021-04-09","v":3.193},
      {"s":"국채 10년물","t":"2021-04-11","v":3.173},
      {"s":"국채 10년물","t":"2021-04-13","v":3.152},
      {"s":"국채 10년물","t":"2021-04-16","v":3.152},
      {"s":"국채 10년물","t":"2021-04-17","v":3.145},
      {"s":"국채 10년물","t":"2021-04-21","v":3.138},
      {"s":"국채 10년물","t":"2021-04-23","v":3.125},
      {"s":"국채 10년물","t":"2021-04-26","v":3.125},
      {"s":"국채 10년물","t":"2021-04-28","v":3.132},
      {"s":"국채 10년물","t":"2021-04-30","v":3.111},
      {"s":"국채 10년물","t":"2021-05-02","v":3.070},
      {"s":"국채 10년물","t":"2021-05-04","v":3.070},
      {"s":"국채 10년물","t":"2021-05-06","v":3.077},
      {"s":"국채 10년물","t":"2021-05-09","v":3.070},
      {"s":"국채 10년물","t":"2021-05-11","v":3.077},
      {"s":"국채 10년물","t":"2021-05-13","v":3.077},
      {"s":"국채 10년물","t":"2021-05-15","v":3.084},
      {"s":"국채 10년물","t":"2021-05-16","v":3.090},
      {"s":"국채 10년물","t":"2021-05-17","v":3.118},
      {"s":"국채 10년물","t":"2021-05-19","v":3.125},
      {"s":"국채 10년물","t":"2021-05-21","v":3.132},
      {"s":"국채 10년물","t":"2021-05-23","v":3.145},
      {"s":"국채 10년물","t":"2021-05-25","v":3.138},
      {"s":"국채 10년물","t":"2021-05-27","v":3.145},
      {"s":"국채 10년물","t":"2021-05-29","v":3.152},
      {"s":"국채 10년물","t":"2021-05-30","v":3.162},
      {"s":"국채 10년물","t":"2021-06-01","v":3.152},
      {"s":"국채 10년물","t":"2021-06-03","v":3.090},
      {"s":"국채 10년물","t":"2021-06-06","v":3.088},
      {"s":"국채 10년물","t":"2021-06-08","v":3.090},
      {"s":"국채 10년물","t":"2021-06-10","v":3.084},
      {"s":"국채 10년물","t":"2021-06-12","v":3.084},
      {"s":"국채 10년물","t":"2021-06-14","v":3.077},
      {"s":"국채 10년물","t":"2021-06-16","v":3.084},
      {"s":"국채 10년물","t":"2021-06-17","v":3.070},
      {"s":"국채 10년물","t":"2021-06-18","v":3.052}
    ]
  },
  "mark": {"type": "line", "strokeWidth": 2, "clip": false},
  "encoding": {
    "x": {
      "field": "t",
      "type": "temporal",
      "scale": {
        "type": "utc",
        "domain": [
          {"year": 2020, "month": 7, "date": 1, "utc": true},
          {"year": 2021, "month": 7, "date": 1, "utc": true}
        ]
      },
      "axis": {
        "title": null,
        "grid": false,
        "values": [
          {"year": 2020, "month": 7, "date": 1, "utc": true},
          {"year": 2020, "month": 9, "date": 1, "utc": true},
          {"year": 2020, "month": 11, "date": 1, "utc": true},
          {"year": 2021, "month": 1, "date": 1, "utc": true},
          {"year": 2021, "month": 3, "date": 1, "utc": true},
          {"year": 2021, "month": 5, "date": 1, "utc": true},
          {"year": 2021, "month": 7, "date": 1, "utc": true}
        ],
        "labelExpr": "utcFormat(datum.value, \"'%y/%m\")",
        "labelFont": "Noto Sans CJK KR",
        "labelFontSize": 19,
        "labelColor": "#333333",
        "labelPadding": 6,
        "labelFlush": false,
        "labelOverlap": false,
        "tickSize": 6,
        "tickColor": "#999999",
        "domainColor": "#aaaaaa",
        "domainWidth": 1.5
      }
    },
    "y": {
      "field": "v",
      "type": "quantitative",
      "scale": {"domain": [2.0, 3.5], "zero": false, "nice": false},
      "axis": {
        "title": "(%)",
        "titleAngle": 0,
        "titleX": -43,
        "titleY": -45,
        "titleAlign": "left",
        "titleBaseline": "middle",
        "titleFont": "Noto Sans CJK KR",
        "titleFontSize": 17,
        "titleFontWeight": "normal",
        "titleColor": "#333333",
        "grid": false,
        "values": [2.0, 2.5, 3.0, 3.5],
        "format": ".1f",
        "labelFont": "Noto Sans CJK KR",
        "labelFontSize": 20,
        "labelColor": "#333333",
        "labelPadding": 12,
        "tickSize": 5,
        "tickColor": "#888888",
        "domainColor": "#888888",
        "domainWidth": 1.5
      }
    },
    "color": {
      "field": "s",
      "type": "nominal",
      "scale": {
        "domain": ["국채 1년물", "국채 2년물", "국채 5년물", "국채 10년물"],
        "range": ["#1f4a87", "#8db0dc", "#e5bac8", "#7f7f7f"]
      },
      "legend": {
        "title": null,
        "orient": "none",
        "direction": "horizontal",
        "legendX": 25,
        "legendY": -54,
        "padding": 0,
        "symbolType": "stroke",
        "symbolSize": 1850,
        "symbolStrokeWidth": 2,
        "labelFont": "Noto Sans CJK KR",
        "labelFontSize": 16,
        "labelColor": "#333333",
        "labelOffset": 4,
        "labelLimit": 200,
        "columnPadding": 28
      }
    }
  }
}
